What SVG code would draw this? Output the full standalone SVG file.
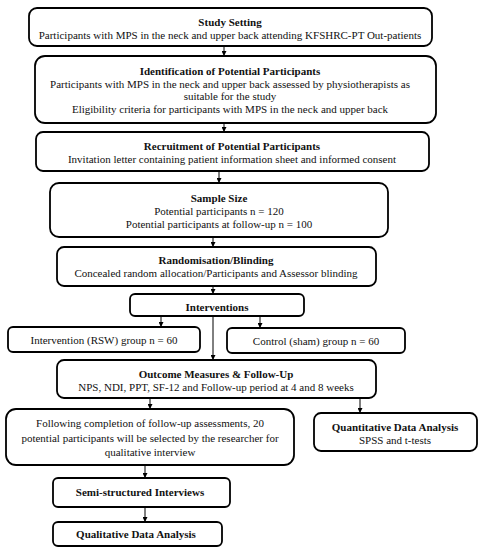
<svg xmlns="http://www.w3.org/2000/svg" width="484" height="550" viewBox="0 0 484 550">
<defs>
<marker id="ah" viewBox="0 0 10 10" refX="10" refY="5" markerWidth="5" markerHeight="5" orient="auto" markerUnits="userSpaceOnUse">
<path d="M0,0 L10,5 L0,10 z" fill="#000"/>
</marker>
<style>
rect{fill:#fff;stroke:#000;stroke-width:1.8}
text{font-family:"Liberation Serif","Times New Roman",serif;font-size:11px;fill:#111;text-anchor:middle}
.b{font-weight:bold}
#connectors line{stroke:#000;stroke-width:1;marker-end:url(#ah)}
</style>
</defs>
<rect x="0" y="0" width="484" height="550" style="fill:#fff;stroke:none"/>
<g id="connectors">
<line x1="224" y1="46" x2="224" y2="56"/>
<line x1="224" y1="123" x2="224" y2="132"/>
<line x1="219" y1="171" x2="219" y2="183"/>
<line x1="213" y1="237" x2="213" y2="247"/>
<line x1="213" y1="286" x2="213" y2="294"/>
<line x1="161" y1="316" x2="161" y2="327"/>
<line x1="260" y1="316" x2="260" y2="328"/>
<line x1="213" y1="316" x2="213" y2="360"/>
<line x1="150" y1="398" x2="150" y2="409"/>
<line x1="360" y1="398" x2="360" y2="413"/>
<line x1="145" y1="465" x2="145" y2="478"/>
<line x1="145" y1="507" x2="145" y2="522"/>
</g>
<g id="study-setting">
<rect x="29" y="8" width="403" height="38" rx="8"/>
<text x="230" y="26" class="b">Study Setting</text>
<text x="230" y="39">Participants with MPS in the neck and upper back attending KFSHRC-PT Out-patients</text>
</g>
<g id="identification">
<rect x="35" y="56" width="401" height="67" rx="10"/>
<text x="230" y="75" class="b">Identification of Potential Participants</text>
<text x="230" y="88">Participants with MPS in the neck and upper back assessed by physiotherapists as</text>
<text x="230" y="100">suitable for the study</text>
<text x="230" y="113">Eligibility criteria for participants with MPS in the neck and upper back</text>
</g>
<g id="recruitment">
<rect x="36" y="132" width="393" height="39" rx="7"/>
<text x="232" y="150" class="b">Recruitment of Potential Participants</text>
<text x="232" y="163">Invitation letter containing patient information sheet and informed consent</text>
</g>
<g id="sample-size">
<rect x="50" y="183" width="338" height="54" rx="9"/>
<text x="219" y="202" class="b">Sample Size</text>
<text x="219" y="215">Potential participants n = 120</text>
<text x="219" y="228">Potential participants at follow-up n = 100</text>
</g>
<g id="randomisation">
<rect x="57" y="247" width="319" height="39" rx="7"/>
<text x="216" y="264" class="b">Randomisation/Blinding</text>
<text x="216" y="277">Concealed random allocation/Participants and Assessor blinding</text>
</g>
<g id="interventions">
<rect x="130" y="294" width="174" height="22" rx="5"/>
<text x="217" y="311" class="b">Interventions</text>
</g>
<g id="intervention-rsw">
<rect x="8" y="327" width="192" height="25" rx="5"/>
<text x="104" y="344">Intervention (RSW) group n = 60</text>
</g>
<g id="control">
<rect x="227" y="328" width="178" height="25" rx="5"/>
<text x="316" y="345">Control (sham) group n = 60</text>
</g>
<g id="outcome">
<rect x="57" y="360" width="319" height="38" rx="7"/>
<text x="216" y="378" class="b">Outcome Measures &amp; Follow-Up</text>
<text x="216" y="391">NPS, NDI, PPT, SF-12 and Follow-up period at 4 and 8 weeks</text>
</g>
<g id="following">
<rect x="6" y="409" width="288" height="56" rx="10"/>
<text x="150" y="427">Following completion of follow-up assessments, 20</text>
<text x="150" y="442">potential participants will be selected by the researcher for</text>
<text x="150" y="456">qualitative interview</text>
</g>
<g id="quantitative">
<rect x="314" y="413" width="163" height="38" rx="7"/>
<text x="395" y="431" class="b">Quantitative Data Analysis</text>
<text x="395" y="444">SPSS and t-tests</text>
</g>
<g id="semi-structured">
<rect x="53" y="478" width="177" height="29" rx="5"/>
<text x="140" y="496" class="b">Semi-structured Interviews</text>
</g>
<g id="qualitative">
<rect x="53" y="522" width="169" height="24" rx="5"/>
<text x="136" y="538" class="b">Qualitative Data Analysis</text>
</g>
</svg>
